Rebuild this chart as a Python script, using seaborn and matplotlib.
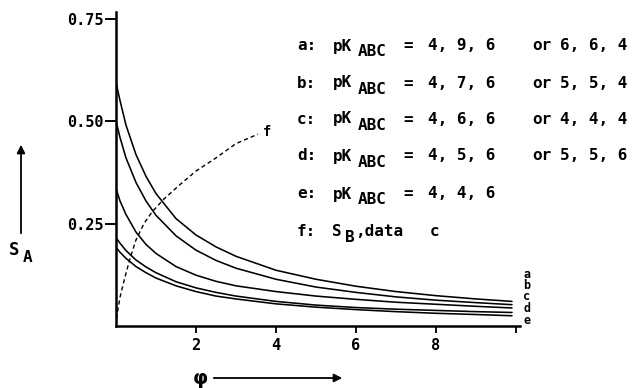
import numpy as np
import pandas as pd
import matplotlib
matplotlib.use("Agg")
import matplotlib.pyplot as plt
import seaborn as sns

# ---- data ---------------------------------------------------------------
phi = [0, 0.05, 0.1, 0.25, 0.5, 0.75, 1, 1.5, 2, 2.5, 3, 4, 5, 6, 7, 8, 9, 9.9]
s_a = [0.595, 0.572, 0.550, 0.490, 0.418, 0.365, 0.323, 0.262, 0.222, 0.193,
       0.170, 0.136, 0.114, 0.097, 0.084, 0.074, 0.066, 0.060]
s_b = [0.500, 0.480, 0.460, 0.410, 0.350, 0.305, 0.270, 0.220, 0.185, 0.160,
       0.141, 0.114, 0.095, 0.082, 0.071, 0.063, 0.057, 0.052]
s_c = [0.335, 0.320, 0.305, 0.272, 0.229, 0.199, 0.177, 0.145, 0.124, 0.109,
       0.098, 0.084, 0.073, 0.065, 0.058, 0.053, 0.048, 0.044]
s_d = [0.215, 0.209, 0.202, 0.184, 0.161, 0.144, 0.130, 0.108, 0.093, 0.082,
       0.073, 0.060, 0.051, 0.045, 0.041, 0.038, 0.035, 0.033]
s_e = [0.192, 0.186, 0.180, 0.165, 0.145, 0.130, 0.117, 0.098, 0.084, 0.073,
       0.066, 0.054, 0.046, 0.040, 0.035, 0.031, 0.028, 0.025]
curve_names = ["a", "b", "c", "d", "e"]

# S_B for data set c
phi_f = [0, 0.03, 0.1, 0.2, 0.35, 0.5, 0.7, 0.9, 1.2, 1.6, 2.0, 2.5, 3.0, 3.55]
s_f = [0.0, 0.03, 0.07, 0.11, 0.165, 0.21, 0.25, 0.278, 0.31, 0.345, 0.378,
       0.41, 0.445, 0.468]

pk_first = ["4, 9, 6", "4, 7, 6", "4, 6, 6", "4, 5, 6", "4, 4, 6"]
pk_second = ["6, 6, 4", "5, 5, 4", "4, 4, 4", "5, 5, 6", None]

y_ticks = [0.25, 0.50, 0.75]
y_ticklabels = ["0.25", "0.50", "0.75"]
x_ticks = [2, 4, 6, 8, 10]
x_ticklabels = ["2", "4", "6", "8", ""]

# ---- figure -------------------------------------------------------------
sns.set_style("ticks")
plt.rcParams["font.family"] = ["DejaVu Sans Mono", "DejaVu Sans"]
plt.rcParams["font.weight"] = "bold"
plt.rcParams["text.color"] = "black"
plt.rcParams["xtick.color"] = "black"
plt.rcParams["ytick.color"] = "black"

W, H = 644, 388
fig = plt.figure(figsize=(W / 100, H / 100), dpi=100)
ax = fig.add_axes([116 / W, 1 - 326 / H, 404 / W, 313.6 / H])

df = pd.DataFrame({
    "phi": phi * len(curve_names),
    "S": s_a + s_b + s_c + s_d + s_e,
    "curve": [n for n in curve_names for _ in phi],
})
sns.lineplot(data=df, x="phi", y="S", units="curve", estimator=None,
             color="black", lw=1.15, sort=False, ax=ax, legend=False)
sns.lineplot(x=phi_f, y=s_f, color="black", lw=1.0, sort=False, ax=ax,
             linestyle=(0, (3, 2.2)))

ax.set_xlim(0, 10.1)
ax.set_ylim(0, 0.765)
ax.set_xlabel("")
ax.set_ylabel("")
for side in ("top", "right"):
    ax.spines[side].set_visible(False)
for side in ("left", "bottom"):
    ax.spines[side].set_linewidth(1.8)
    ax.spines[side].set_color("black")

ax.set_yticks(y_ticks)
ax.set_yticklabels(y_ticklabels)
ax.set_xticks(x_ticks)
ax.set_xticklabels(x_ticklabels)
ax.tick_params(axis="y", length=8, width=1.4, pad=1, labelsize=11,
               colors="black")
ax.tick_params(axis="x", length=5, width=1.3, pad=4, labelsize=11,
               colors="black")

# curve end labels, stacked
fig.text(527 / W, 1 - 297 / H, "\n".join(curve_names), ha="center",
         va="center", fontsize=8.5, linespacing=0.85)

# label on the dashed curve
ax.text(phi_f[-1] + 0.12, s_f[-1] + 0.005, "f", ha="left", va="center",
        fontsize=10)


def ftext(x, y, s, **kw):
    kw.setdefault("fontsize", 11.5)
    kw.setdefault("va", "center")
    kw.setdefault("ha", "left")
    return fig.text(x / W, 1 - y / H, s, **kw)


# legend block
rows_y = [46, 83, 119, 156, 194]
for name, yc, v1, v2 in zip(curve_names, rows_y, pk_first, pk_second):
    ftext(297, yc, name + ":")
    ftext(333, yc, "pK")
    ftext(358, yc + 6, "ABC")
    ftext(403, yc, "=")
    ftext(428, yc, v1)
    if v2 is not None:
        ftext(532, yc, "or")
        ftext(560, yc, v2)

yf = 231
ftext(297, yf, "f:")
ftext(332, yf, "S")
ftext(345, yf + 6, "B")
ftext(355, yf, ",data")
ftext(430, yf, "c")

# axis names with arrows
ftext(9, 250, "S", fontsize=12.5)
ftext(23, 257, "A", fontsize=11.5)
fig.add_artist(matplotlib.patches.FancyArrowPatch(
    (21 / W, 1 - 236 / H), (21 / W, 1 - 142 / H), transform=fig.transFigure,
    arrowstyle="-|>", mutation_scale=12, lw=1.3, color="black"))

ftext(200, 378, "φ", ha="center", fontsize=14, family="DejaVu Sans")
fig.add_artist(matplotlib.patches.FancyArrowPatch(
    (211 / W, 1 - 378 / H), (345 / W, 1 - 378 / H), transform=fig.transFigure,
    arrowstyle="-|>", mutation_scale=12, lw=1.3, color="black"))

fig.savefig("out.png", dpi=100)
